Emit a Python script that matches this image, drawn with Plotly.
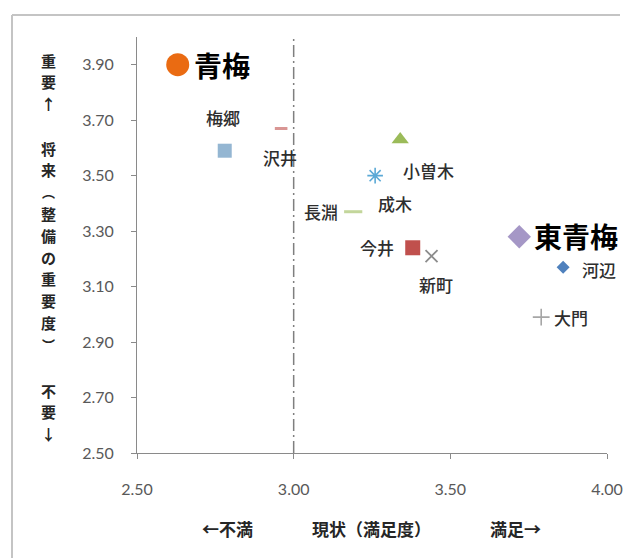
import plotly.graph_objects as go

# 地区別：現状（満足度）と将来の重要度
stations = ["梅郷", "沢井", "小曽木", "成木", "長淵", "今井", "新町", "河辺", "大門"]
satisfaction = [2.78, 2.96, 3.34, 3.26, 3.19, 3.38, 3.44, 3.86, 3.79]
importance = [3.59, 3.67, 3.63, 3.50, 3.37, 3.24, 3.21, 3.17, 2.99]

# 地域全体の値
areas = ["青梅", "東青梅"]
area_satisfaction = [2.63, 3.72]
area_importance = [3.90, 3.28]

x_ticks = [2.50, 3.00, 3.50, 4.00]
y_ticks = [2.50, 2.70, 2.90, 3.10, 3.30, 3.50, 3.70, 3.90]
midpoint = 3.00

# marker style and label offset (px) per station
station_style = {
    "梅郷": dict(symbol="square", size=14, color="#94b6d2", dx=-2, dy=33),
    "沢井": dict(symbol="line-ew", size=9, color="#d99694", dx=-1, dy=-29, line=3),
    "小曽木": dict(symbol="triangle-up", size=15, color="#9bbb59", dx=28, dy=-31),
    "成木": dict(symbol="asterisk-open", size=13, color="#5ba9d6", dx=20, dy=-28, line=1.6),
    "長淵": dict(symbol="line-ew", size=13, color="#c3d69b", dx=-32, dy=0, line=3),
    "今井": dict(symbol="square", size=15, color="#c0504d", dx=-36, dy=0),
    "新町": dict(symbol="x-thin-open", size=12, color="#8c8c8c", dx=4, dy=-28, line=1.8),
    "河辺": dict(symbol="diamond", size=10, color="#4f81bd", dx=36, dy=-2),
    "大門": dict(symbol="cross-thin-open", size=12, color="#a6a6a6", dx=30, dy=0, line=1.6),
}
area_style = {
    "青梅": dict(symbol="circle", size=23, color="#ea6b12", dx=44, dy=0),
    "東青梅": dict(symbol="diamond", size=18, color="#a597c6", dx=57, dy=1),
}

JP = "Noto Sans CJK JP"
fig = go.Figure()
annotations = []

for name, sx, sy in zip(stations, satisfaction, importance):
    st = station_style[name]
    marker = dict(symbol=st["symbol"], size=st["size"], color=st["color"])
    if "line" in st:
        marker["line"] = dict(color=st["color"], width=st["line"])
    else:
        marker["line"] = dict(width=0)
    fig.add_trace(go.Scatter(x=[sx], y=[sy], mode="markers", name=name,
                             marker=marker, showlegend=False))
    annotations.append(dict(x=sx, y=sy, xref="x", yref="y", text=name,
                            showarrow=False, xshift=st["dx"], yshift=st["dy"],
                            font=dict(family=JP, size=17, weight=500, color="#2e2e2e")))

for name, sx, sy in zip(areas, area_satisfaction, area_importance):
    st = area_style[name]
    fig.add_trace(go.Scatter(x=[sx], y=[sy], mode="markers", name=name,
                             marker=dict(symbol=st["symbol"], size=st["size"],
                                         color=st["color"], line=dict(width=0)),
                             showlegend=False))
    annotations.append(dict(x=sx, y=sy, xref="x", yref="y", text="<b>" + name + "</b>",
                            showarrow=False, xshift=st["dx"], yshift=st["dy"],
                            font=dict(family=JP, size=28, color="#000000")))

# 座標変換（ピクセル → paper）
W, H = 636, 558
L, R, T, B = 137, 29, 37, 105
pw, ph = W - L - R, H - T - B


def px_x(px):
    return (px - L) / pw


def px_y(py):
    return (H - B - py) / ph


# 縦軸タイトル（縦書き・1文字ずつ配置）
y_title_blocks = [("重要↑", 60), ("将来︵整備の重要度︶", 148), ("不要↓", 390)]
for txt, top in y_title_blocks:
    for i, ch in enumerate(txt):
        size = 13 if ch in "︵︶" else 15
        annotations.append(dict(x=px_x(48), y=px_y(top + i * 21.8),
                                xref="paper", yref="paper", text="<b>" + ch + "</b>",
                                showarrow=False, xanchor="center", yanchor="middle",
                                font=dict(family=JP, size=size, color="#262626")))

x_title_parts = [("←不満", 227), ("現状（満足度）", 371), ("満足→", 515)]
for txt, cx in x_title_parts:
    annotations.append(dict(x=px_x(cx), y=px_y(528), xref="paper", yref="paper",
                            text="<b>" + txt + "</b>", showarrow=False,
                            xanchor="center", yanchor="middle",
                            font=dict(family=JP, size=17, color="#262626")))

shapes = [
    # 満足度の中間値を示す一点鎖線
    dict(type="line", xref="x", yref="y", x0=midpoint, x1=midpoint,
         y0=y_ticks[0], y1=4.0,
         line=dict(color="#7f7f7f", width=1.5, dash="12px,4px,2px,4px")),
    # 外枠
    dict(type="line", xref="paper", yref="paper", x0=px_x(12), x1=px_x(12),
         y0=px_y(15), y1=px_y(560), line=dict(color="#c4c4c4", width=2)),
    dict(type="line", xref="paper", yref="paper", x0=px_x(12), x1=px_x(620),
         y0=px_y(15), y1=px_y(15), line=dict(color="#c4c4c4", width=2)),
]

tick_font = dict(family="Lato", size=16, color="#595959")
fig.update_layout(
    width=W, height=H,
    margin=dict(l=L, r=R, t=T, b=B),
    paper_bgcolor="white", plot_bgcolor="white",
    annotations=annotations, shapes=shapes,
    xaxis=dict(range=[2.5, 4.0], tickvals=x_ticks, tickformat=".2f",
               showgrid=False, zeroline=False, showline=True,
               linecolor="#8a8a8a", linewidth=1, ticks="outside", ticklen=5,
               tickcolor="#8a8a8a", tickfont=tick_font, ticklabelstandoff=17),
    yaxis=dict(range=[2.5, 4.0], tickvals=y_ticks, tickformat=".2f",
               showgrid=False, zeroline=False, showline=True,
               linecolor="#8a8a8a", linewidth=1, ticks="outside", ticklen=5,
               tickcolor="#8a8a8a", tickfont=tick_font, ticklabelstandoff=14),
)

fig.write_html("out.html")
